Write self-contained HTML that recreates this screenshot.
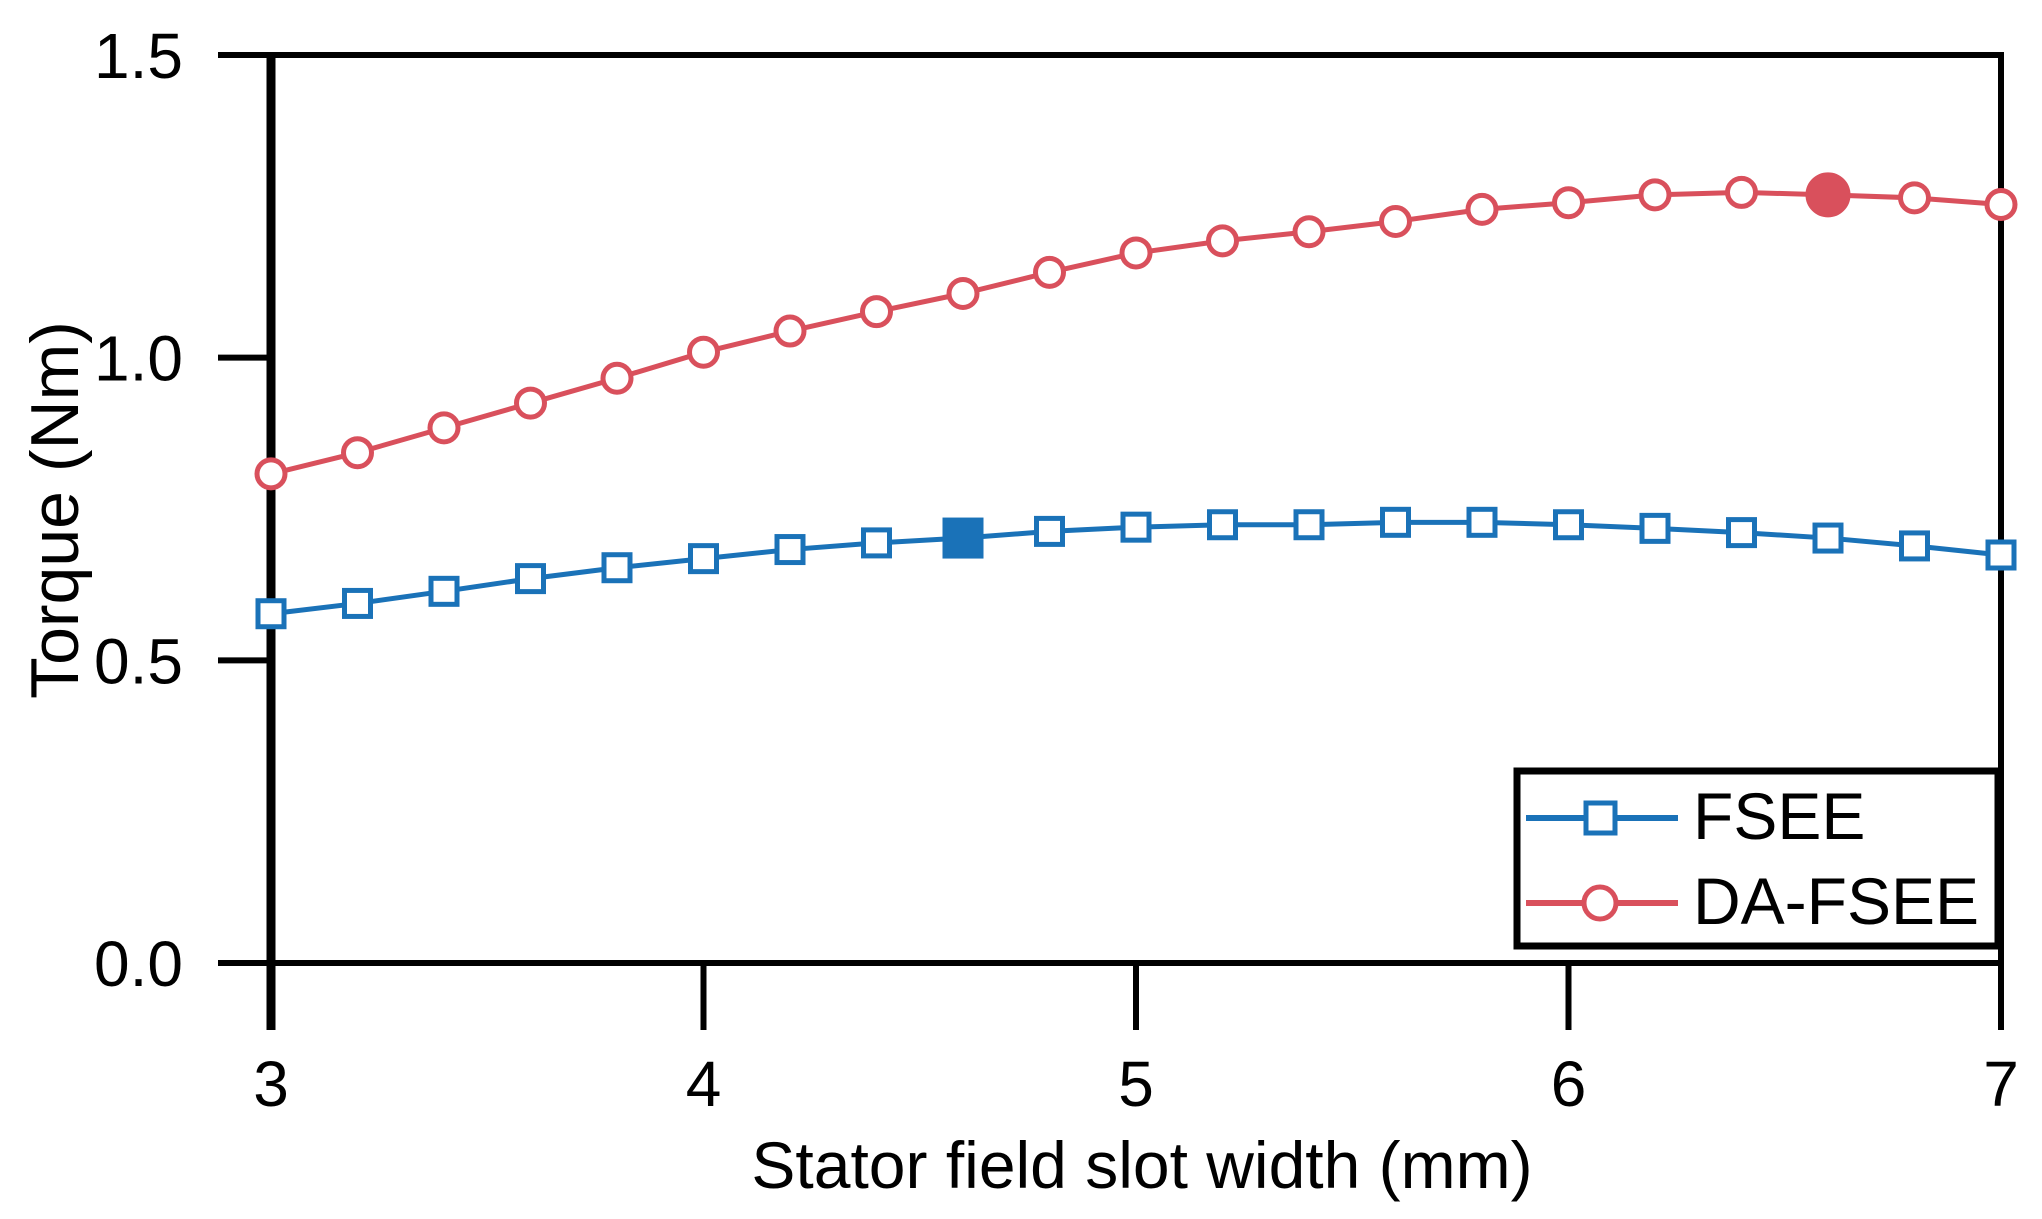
<!DOCTYPE html>
<html><head><meta charset="utf-8"><style>
html,body{margin:0;padding:0;background:#fff;}
svg{display:block;font-family:"Liberation Sans",Arial,sans-serif;}
</style></head><body>
<svg id="chart" width="2042" height="1219" viewBox="0 0 2042 1219">
<g id="axes"></g>
<g id="series"></g>
<text x="1142" y="1188" font-size="66" text-anchor="middle">Stator field slot width (mm)</text>
<text transform="translate(78,510) rotate(-90)" font-size="68" text-anchor="middle">Torque (Nm)</text>
<g>
<rect x="1517" y="771" width="481" height="175" fill="#fff" stroke="#000" stroke-width="7"/>
<g>
<line x1="1526" y1="818" x2="1678" y2="818" stroke="#1a72b8" stroke-width="6"/>
<rect x="1586" y="803" width="29" height="30" fill="#fff" stroke="#1a72b8" stroke-width="5"/>
<text x="1693" y="839" font-size="66">FSEE</text>
</g>
<g>
<line x1="1526" y1="903" x2="1678" y2="903" stroke="#d9505c" stroke-width="6"/>
<circle cx="1600" cy="903" r="16" fill="#fff" stroke="#d9505c" stroke-width="5"/>
<text x="1693" y="924" font-size="66">DA-FSEE</text>
</g>
</g>
</svg>
<script>
const xValues=[3,3.2,3.4,3.6,3.8,4,4.2,4.4,4.6,4.8,5,5.2,5.4,5.6,5.8,6,6.2,6.4,6.6,6.8,7];
const fsee=[0.577,0.594,0.614,0.635,0.653,0.668,0.683,0.694,0.702,0.713,0.720,0.724,0.724,0.728,0.728,0.724,0.718,0.711,0.702,0.689,0.674];
const daFsee=[0.808,0.843,0.884,0.925,0.966,1.009,1.044,1.076,1.106,1.141,1.173,1.193,1.208,1.225,1.245,1.256,1.269,1.273,1.269,1.264,1.253];
const xTicks=[3,4,5,6,7];
const yTicks=[0.0,0.5,1.0,1.5];
const yTickLabels=["0.0","0.5","1.0","1.5"];
const fseeHighlight=8;
const daHighlight=18;

const X0=271,X1=2009-8,Y0=963,Y1=55;
function sx(v){return X0+(v-3)/(7-3)*(X1-X0);}
function sy(v){return Y0-(v-0)/(1.5-0)*(Y0-Y1);}
const NS="http://www.w3.org/2000/svg";
function mk(tag,attrs,parent){const e=document.createElementNS(NS,tag);for(const k in attrs)e.setAttribute(k,attrs[k]);parent.appendChild(e);return e;}
const axes=document.getElementById('axes');
const series=document.getElementById('series');
let f=mk('rect',{x:X0,y:Y1,width:X1-X0,height:Y0-Y1,fill:'none',stroke:'#000','stroke-width':6},axes);


let ya=mk('line',{x1:X0,y1:Y1-3,x2:X0,y2:1030,stroke:'#000','stroke-width':9},axes);


yTicks.forEach((t,i)=>{
  const tl=mk('line',{x1:218,y1:sy(t),x2:X0,y2:sy(t),stroke:'#000','stroke-width':6},axes);
  
  
  const tx=mk('text',{x:183,y:sy(t)+23,'font-size':64,'text-anchor':'end'},axes);
  tx.textContent=yTickLabels[i];
  
  
});
xTicks.forEach(t=>{
  const tl=mk('line',{x1:sx(t),y1:Y0,x2:sx(t),y2:1030,stroke:'#000','stroke-width':6},axes);
  
  
  const tx=mk('text',{x:sx(t),y:1106,'font-size':64,'text-anchor':'middle'},axes);
  tx.textContent=String(t);
  
  
});
function drawSeries(vals,color,shape,hi,name){
  const g=mk('g',{},series);
  
  
  const pl=mk('polyline',{points:vals.map((v,i)=>sx(xValues[i])+','+sy(v)).join(' '),fill:'none',stroke:color,'stroke-width':5},g);
  
  
  vals.forEach((v,i)=>{
    const cx=sx(xValues[i]),cy=sy(v),filled=i===hi;
    let m;
    if(shape==='sq'){
      const s=filled?36:26;
      m=mk('rect',{x:cx-s/2,y:cy-s/2,width:s,height:s,fill:filled?color:'#fff',stroke:color,'stroke-width':5},g);
    }else{
      m=mk('circle',{cx:cx,cy:cy,r:filled?20:14,fill:filled?color:'#fff',stroke:color,'stroke-width':5},g);
    }
    
    
  });
}
drawSeries(fsee,'#1a72b8','sq',fseeHighlight,'fsee');
drawSeries(daFsee,'#d9505c','ci',daHighlight,'da-fsee');
</script>
</body></html>
